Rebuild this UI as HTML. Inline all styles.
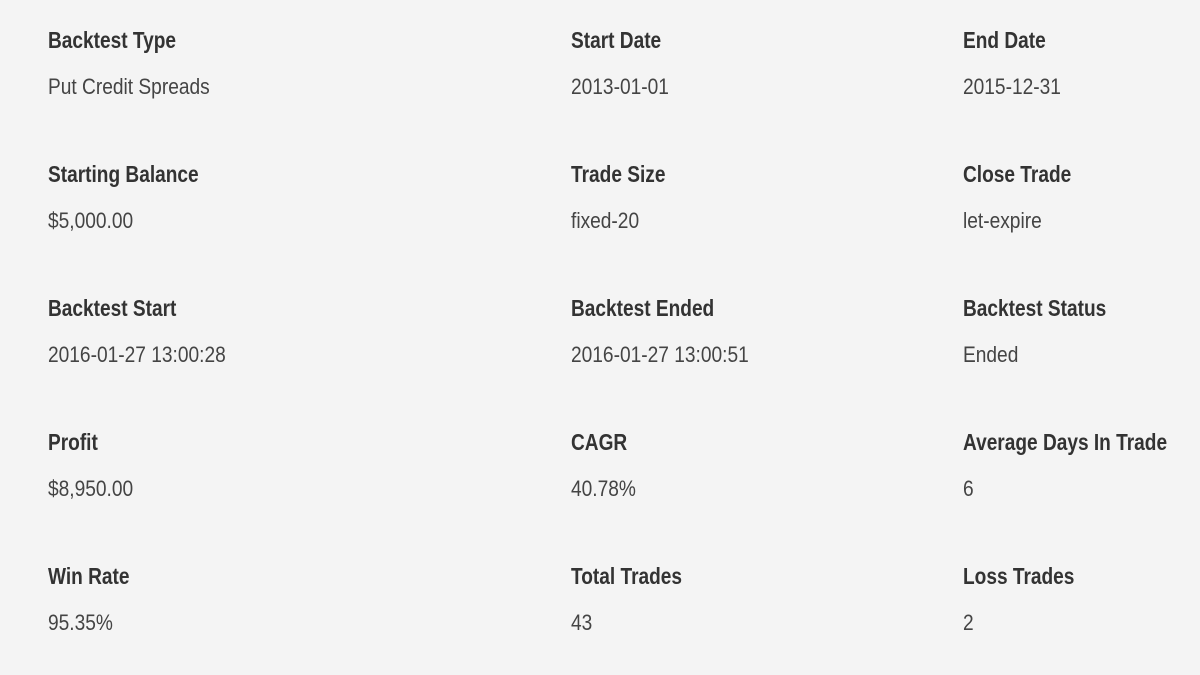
<!DOCTYPE html>
<html><head><meta charset="utf-8"><style>
html,body{margin:0;padding:0}
body{width:1200px;height:675px;background:#f4f4f4;position:relative;overflow:hidden;font-family:"Liberation Sans",sans-serif}
.c{position:absolute;white-space:nowrap;transform-origin:left center;line-height:1}
.l{font-weight:bold;font-size:23px;color:#333;transform:scaleX(0.83)}
.v{font-size:22px;color:#444;transform:scaleX(0.87)}
</style></head><body>
<script>
const cols=[48,571,963];
const rows=[
[["Backtest Type","Put Credit Spreads"],["Start Date","2013-01-01"],["End Date","2015-12-31"]],
[["Starting Balance","$5,000.00"],["Trade Size","fixed-20"],["Close Trade","let-expire"]],
[["Backtest Start","2016-01-27 13:00:28"],["Backtest Ended","2016-01-27 13:00:51"],["Backtest Status","Ended"]],
[["Profit","$8,950.00"],["CAGR","40.78%"],["Average Days In Trade","6"]],
[["Win Rate","95.35%"],["Total Trades","43"],["Loss Trades","2"]]
];
rows.forEach((r,i)=>{r.forEach((f,j)=>{
 const a=document.createElement('div');a.className='c l';a.textContent=f[0];
 a.style.left=cols[j]+'px';a.style.top=(40+134*i-11)+'px';
 
 
 document.body.appendChild(a);
 const b=document.createElement('div');b.className='c v';b.textContent=f[1];
 b.style.left=cols[j]+'px';b.style.top=(87+134*i-11)+'px';
 
 
 document.body.appendChild(b);
});});
</script>
</body></html>
